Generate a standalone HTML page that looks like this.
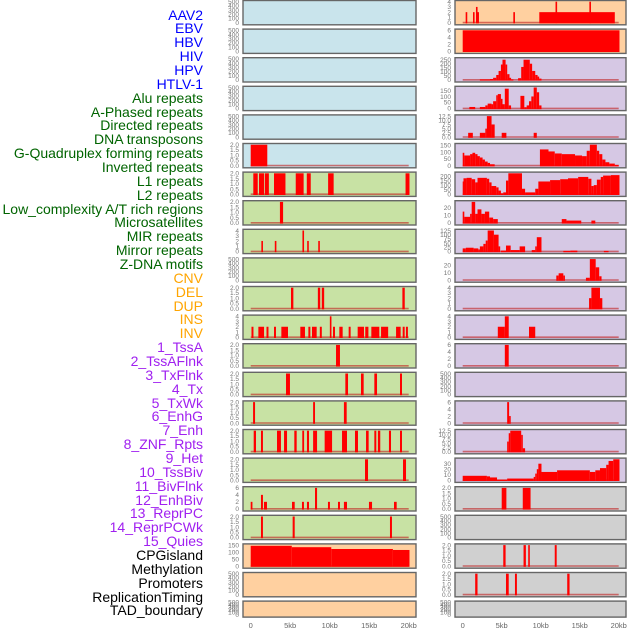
<!DOCTYPE html>
<html><head><meta charset="utf-8"><style>
html,body{margin:0;padding:0;background:#fff;}
body{width:630px;height:630px;overflow:hidden;position:relative;font-family:"Liberation Sans",sans-serif;}
.lab{position:absolute;right:427px;font-size:14px;line-height:14px;white-space:nowrap;}
</style></head><body>
<div id="labels"></div>
<svg id="chart" width="630" height="630" style="position:absolute;left:0;top:0"></svg>
<script>
const labelNames=["AAV2","EBV","HBV","HIV","HPV","HTLV-1","Alu repeats","A-Phased repeats","Directed repeats","DNA transposons","G-Quadruplex forming repeats","Inverted repeats","L1 repeats","L2 repeats","Low_complexity A/T rich regions","Microsatellites","MIR repeats","Mirror repeats","Z-DNA motifs","CNV","DEL","DUP","INS","INV","1_TssA","2_TssAFlnk","3_TxFlnk","4_Tx","5_TxWk","6_EnhG","7_Enh","8_ZNF_Rpts","9_Het","10_TssBiv","11_BivFlnk","12_EnhBiv","13_ReprPC","14_ReprPCWk","15_Quies","CPGisland","Methylation","Promoters","ReplicationTiming","TAD_boundary"];
const labelColors=["#0000ff","#006400","#ffa500","#a020f0","#000000"];
const labelGroupSizes=[6,13,5,15,5];
// left column panels: bars as [startKb,endKb,value]
const leftMax=[500,500,500,500,500,2,2,2,4,500,2,4,2,2,2,2,2,6,2,150,500,500];
const leftBars=[[],[],[],[],[],
[[0,2.1,2]],
[[0.33,0.89,2],[1.05,1.7,2],[1.8,2.3,2],[2.95,4.4,2],[5.7,6.7,2],[7.1,7.6,2],[9.8,10.5,2],[19.6,20.1,2]],
[[3.7,4.1,2]],
[[1.35,1.55,2],[3.05,3.25,2],[6.55,6.75,4],[7.15,7.35,2],[8.55,8.75,2]],
[],
[[5.1,5.4,2],[8.5,8.8,2],[9.0,9.3,2],[19.2,19.5,2]],
[[0.1,0.35,2],[0.97,1.69,2],[2.0,2.25,2],[2.95,3.2,2],[3.88,4.72,2],[6.28,6.87,2],[7.3,7.55,2],[7.76,8.35,2],[8.75,9.0,2],[10.02,10.22,4],[10.42,10.67,2],[11.22,11.64,2],[12.4,12.65,2],[13.54,14.34,2],[14.5,14.9,2],[15.27,16.28,2],[16.5,17.4,2],[18.4,18.98,2],[19.24,19.49,2],[19.65,19.9,2]],
[[10.8,11.3,2]],
[[4.47,4.97,2],[11.98,12.32,2],[13.96,14.3,2],[15.65,15.99,2],[18.9,19.15,2]],
[[0.3,0.55,2],[7.9,8.14,2],[11.8,12.15,2]],
[[0.38,0.67,2],[1.3,1.55,2],[3.33,3.83,2],[4.22,4.6,2],[5.52,5.82,2],[6.53,6.76,2],[7.12,7.38,2],[7.9,8.4,2],[9.36,10.3,2],[11.56,12.19,2],[13.2,13.58,2],[14.6,14.93,2],[15.65,15.9,2],[16.1,16.4,2],[17.5,17.76,2],[18.9,19.15,2]],
[[14.47,14.85,2],[19.28,19.66,2]],
[[0,0.22,2],[1.3,1.55,4],[1.68,2.06,2],[5.23,5.57,2],[6.49,6.74,2],[7.12,7.38,2],[8.14,8.4,6],[9.78,10.03,2],[11.05,11.3,2],[11.8,12.19,2],[14.97,15.36,2],[18.14,18.48,2]],
[[1.3,1.55,2],[5.31,5.57,2],[17.63,17.88,2]],
[[0,5.2,145],[5.2,10.2,135],[10.2,18.0,122],[18.0,20.1,115]],
[],[]];
const rightMax=[4,6,260,175,12.5,155,230,28,125,28,4,4,6,500,6,12.5,38,2,500,2,2,500];
const rightBars=[
[[0.38,0.55,2],[1.32,1.49,2],[1.7,1.88,3],[1.88,2.0,2],[6.49,6.7,2],[9.82,19.5,2],[11.9,12.1,4],[16.24,16.4,4]],
[[0,20.1,6]],
[[2.2,3.5,5],[3.5,3.9,10],[3.9,4.3,25],[4.3,4.6,60],[4.6,4.9,110],[4.9,5.1,190],[5.1,5.5,250],[5.5,5.7,190],[5.7,6.0,70],[6.0,6.2,25],[6.2,6.5,5],[7.1,7.5,20],[7.5,7.8,160],[7.8,8.6,250],[8.6,8.9,200],[8.9,9.3,110],[9.3,9.6,60],[9.6,9.8,40],[9.8,10.1,15]],
[[0.85,1.6,12],[2.2,2.9,12],[2.9,3.2,25],[3.2,3.7,40],[3.7,3.9,35],[3.9,4.3,60],[4.3,4.5,110],[4.5,4.9,120],[4.9,5.1,80],[5.1,5.4,35],[5.4,5.9,165],[5.9,6.2,25],[7.4,7.9,105],[7.9,8.2,10],[8.2,8.5,25],[8.5,8.8,60],[8.8,9.1,100],[9.1,9.5,175],[9.5,9.8,135],[9.8,10.1,25]],
[[0.7,1.3,2.5],[2.2,2.9,2.5],[2.9,3.1,5],[3.1,3.7,12.5],[3.7,4.1,7.5],[5.0,5.6,2.5],[9.1,9.5,2.5]],
[[0,0.2,95],[0.2,0.95,75],[0.95,1.25,85],[1.25,1.6,95],[1.6,1.9,85],[1.9,2.2,70],[2.2,2.55,60],[2.55,2.85,45],[2.85,3.2,30],[3.2,3.5,20],[3.5,4.1,10],[9.9,11.0,120],[11.0,11.8,105],[11.8,12.7,90],[12.7,13.5,85],[13.5,14.4,85],[14.4,15.3,75],[15.3,15.9,70],[15.9,16.3,110],[16.3,17.2,155],[17.2,17.5,110],[17.5,17.9,85],[17.9,18.3,45],[18.3,18.8,25],[18.8,19.5,15],[19.5,20,5]],
[[0,0.1,140],[0.1,0.5,175],[0.5,1.15,180],[1.15,1.6,165],[1.6,1.9,130],[1.9,3.1,180],[3.1,3.4,170],[3.4,3.7,130],[3.7,4.3,90],[4.3,4.6,75],[4.6,4.9,40],[4.9,5.2,10],[5.2,5.55,20],[5.55,5.85,150],[5.85,7.6,230],[7.6,8.0,60],[8.0,9.3,20],[9.3,9.7,60],[9.7,11.2,140],[11.2,12.5,155],[12.5,13.5,165],[13.5,14.8,175],[14.8,16.1,190],[16.1,16.5,170],[16.5,16.8,90],[16.8,17.2,100],[17.2,17.7,160],[17.7,18.0,190],[18.0,19.0,205],[19.0,20.1,210]],
[[0,0.2,15],[0.2,0.95,8],[0.95,1.15,12],[1.15,1.6,28],[1.6,1.9,12],[1.9,2.4,18],[2.4,2.85,12],[2.85,3.4,15],[3.4,3.9,7],[3.9,4.5,5],[12.7,13.3,5],[13.3,15.2,3],[16.5,17.0,3]],
[[0,0.4,18],[0.4,1.4,22],[1.4,2.0,18],[2.0,2.2,12],[2.2,2.65,30],[2.65,2.95,45],[2.95,3.2,65],[3.2,4.0,125],[4.0,4.6,100],[4.6,4.8,30],[4.9,5.55,5],[5.55,6.15,35],[6.15,7.3,8],[7.3,8.0,30],[8.85,9.3,8],[9.3,9.5,30],[9.5,10.1,85],[12.9,13.8,3],[13.8,14.7,5],[18.1,18.7,3]],
[[12.0,12.3,6],[12.3,12.9,9],[12.9,13.05,6],[15.8,16.3,3],[16.3,17.05,28],[17.05,17.5,17],[17.5,17.8,5]],
[[16.2,16.5,2],[16.5,17.6,4],[17.6,17.9,2]],
[[4.5,5.4,2],[5.4,5.9,4],[8.5,9.3,2]],
[[5.4,5.9,6]],
[],
[[5.7,5.95,6],[5.95,6.15,2]],
[[5.7,5.9,6],[5.9,6.1,11],[6.1,7.5,12.5],[7.5,7.7,10],[7.7,8.0,2]],
[[0,3.1,8],[3.1,3.5,7],[3.5,4.4,5],[4.4,5.7,1],[5.7,9.1,3],[9.1,9.3,6],[9.3,9.5,12],[9.5,9.7,20],[9.7,10.1,30],[10.1,12.1,15],[12.1,16.3,18],[16.3,17.0,15],[17.0,17.6,18],[17.6,18.4,22],[18.4,18.7,28],[18.7,19.3,35],[19.3,20.1,38]],
[[5.0,5.6,2],[7.7,8.7,2]],
[],
[[5.2,5.5,2],[7.8,8.1,2],[8.4,8.6,2],[11.8,12.05,2]],
[[1.6,1.9,2],[5.55,5.9,2],[6.7,6.95,2],[13.4,13.7,2]],
[]];
const tickStep={500:100,2:0.5,4:1,6:2,150:50,260:50,175:50,12.5:2.5,155:50,230:50,28:10,125:25,38:10};
const xTicks=[0,5,10,15,20];
const xTickLabels=["0","5kb","10kb","15kb","20kb"];
const leftFill=["#c9e4ec","#c9e4ec","#c9e4ec","#c9e4ec","#c9e4ec","#c9e4ec","#c8e2a4","#c8e2a4","#c8e2a4","#c8e2a4","#c8e2a4","#c8e2a4","#c8e2a4","#c8e2a4","#c8e2a4","#c8e2a4","#c8e2a4","#c8e2a4","#c8e2a4","#ffd0a0","#ffd0a0","#ffd0a0"];
const rightFill=["#ffd0a0","#ffd0a0","#d6c8e4","#d6c8e4","#d6c8e4","#d6c8e4","#d6c8e4","#d6c8e4","#d6c8e4","#d6c8e4","#d6c8e4","#d6c8e4","#d6c8e4","#d6c8e4","#d6c8e4","#d6c8e4","#d6c8e4","#d0d0d0","#d0d0d0","#d0d0d0","#d0d0d0","#d0d0d0"];

const NS="http://www.w3.org/2000/svg";
const svg=document.getElementById('chart');
function mk(tag,attrs,parent){const e=document.createElementNS(NS,tag);for(const k in attrs)e.setAttribute(k,attrs[k]);(parent||svg).appendChild(e);return e;}
const cols=[{x0:243,x1:416,ox:250.7,k:7.9,tx:239,max:leftMax,bars:leftBars,fill:leftFill,name:'left'},
            {x0:455,x1:626,ox:462.7,k:7.8,tx:451,max:rightMax,bars:rightBars,fill:rightFill,name:'right'}];
// labels
const ld=document.getElementById('labels');
let li=0;
labelGroupSizes.forEach((n,g)=>{for(let j=0;j<n;j++){const d=document.createElement('div');d.className='lab';


d.style.top=(15+li*13.86-7.5)+'px';d.style.color=labelColors[g];d.textContent=labelNames[li];ld.appendChild(d);li++;}});

cols.forEach(c=>{
  const xs=kb=>c.ox+kb*c.k;
  for(let i=0;i<22;i++){
    const top=0.5+i*28.6;
    const h=i==21?16:24.3;
    const g=mk('g',{});
    
    
    const fr=mk('rect',{x:c.x0,y:top,width:c.x1-c.x0,height:h,fill:c.fill[i],stroke:'#666',"stroke-width":1.4},g);
    
    
    const max=c.max[i];
    const yb=top+h-2.2, yt=top+1.2;
    const ys=v=>yb-(v/max)*(yb-yt);
    const st=tickStep[max];
    const dec=(st%1)!==0;
    for(let v=0;v<=max+1e-9;v+=st){
      const t=mk('text',{x:c.tx,y:ys(v)+2.3,"font-size":6.5,fill:'#777',"text-anchor":'end'},g);
      
      
      t.textContent=dec?v.toFixed(1):String(v);
    }
    const bars=c.bars[i];
    if(bars.length&&!(c.name=='right'&&i==1)){
      const bl=mk('line',{x1:xs(0),x2:xs(20),y1:yb,y2:yb,stroke:'#c02020',"stroke-opacity":0.6,"stroke-width":1.6},g);
      
      
    }
    bars.forEach(b=>{
      const x=xs(b[0]),w=Math.max(1.6,xs(b[1])-x);
      const r=mk('rect',{x:x,y:ys(b[2]),width:w,height:yb-ys(b[2])+0.8,fill:'#ff0000'},g);
      
      
    });
  }
  xTicks.forEach((t,j)=>{
    const tx=mk('text',{x:xs(t),y:628,"font-size":7.5,fill:'#666',"text-anchor":'middle'});
    
    
    tx.textContent=xTickLabels[j];
  });
});
</script>
</body></html>
